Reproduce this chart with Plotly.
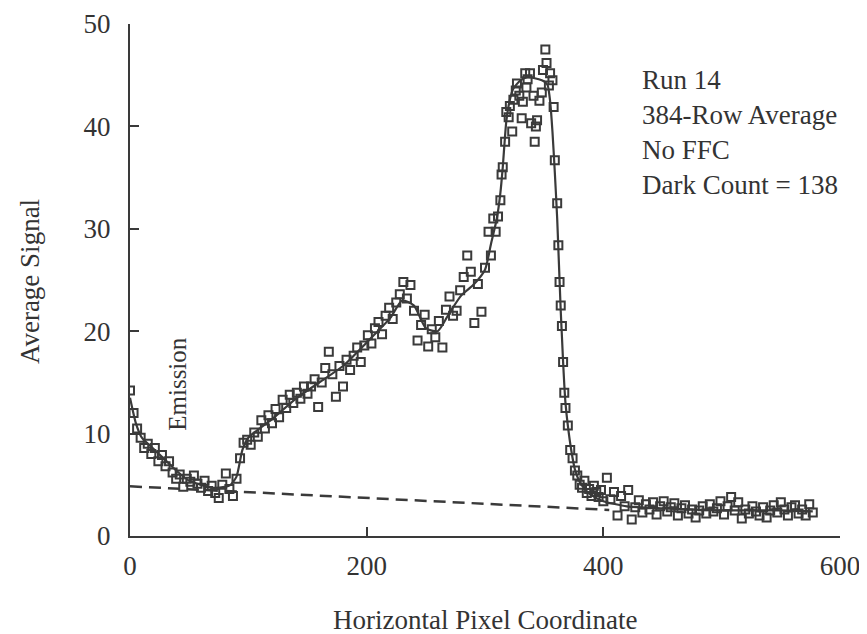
import plotly.graph_objects as go

# ---- data ----
seg_a_x = [0, 3, 6, 9, 12, 15, 18, 21, 24, 27, 30, 33, 36, 39, 42, 45, 48, 51, 54, 57,
           60, 63, 66, 69, 72, 75, 78, 81, 84, 87, 90, 93, 96]
seg_a_y = [14.2, 12.0, 10.5, 9.6, 8.6, 9.0, 8.0, 8.6, 7.3, 7.9, 6.8, 7.3, 6.2, 5.6, 6.0, 4.8,
           5.6, 5.3, 5.9, 5.1, 4.7, 5.4, 4.4, 4.9, 4.2, 3.7, 5.0, 6.1, 4.6, 3.9, 5.6, 7.6, 9.1]

seg_b_x = [99, 102, 105, 108, 111, 114, 117, 120, 123, 126, 129, 132, 135, 138, 141, 144,
           147, 150, 153, 156, 159, 162, 165, 168, 171, 174, 177, 180, 183, 186, 189, 192,
           195, 198]
seg_b_y = [9.4, 8.9, 10.1, 9.7, 11.3, 10.5, 11.8, 11.0, 12.4, 11.6, 13.3, 12.5, 13.8, 13.0,
           14.0, 13.4, 14.6, 13.9, 14.6, 15.3, 12.6, 15.0, 16.4, 18.0, 15.8, 13.6, 16.6,
           14.6, 17.2, 16.2, 17.6, 18.4, 17.0, 18.6]

seg_c_x = [201, 204, 207, 210, 213, 216, 219, 222, 225, 228, 231, 234, 237, 240, 243, 246,
           249, 252, 255, 258, 261, 264, 267, 270, 273, 276, 279, 282, 285, 288, 291, 294,
           297, 300]
seg_c_y = [19.6, 18.8, 20.3, 20.9, 19.7, 21.5, 22.3, 21.2, 22.8, 23.6, 24.8, 23.2, 24.5,
           22.0, 19.1, 20.6, 21.6, 18.5, 20.2, 19.4, 21.0, 18.4, 22.1, 23.4, 21.5, 22.0,
           24.0, 25.3, 27.4, 25.8, 20.8, 24.6, 21.9, 26.2]

seg_d_x = [303, 305, 307, 309, 311, 313, 314, 315, 317, 318, 320, 321, 323, 324, 326, 327,
           329, 331, 332, 334, 335, 336, 338, 339, 341, 342, 343, 344, 346, 348, 349, 351,
           352, 354, 355, 357, 358, 359, 361, 362, 363, 364, 365, 366, 367, 368, 370, 372,
           374, 376, 378, 380, 382, 384, 386, 388, 390, 392, 394, 396, 398]
seg_d_y = [29.7, 27.4, 31.0, 29.7, 31.2, 32.8, 35.3, 36.0, 38.5, 41.4, 40.9, 42.0, 39.5,
           42.6, 43.5, 44.2, 43.0, 40.8, 42.4, 45.2, 43.8, 44.6, 45.2, 40.3, 43.0, 38.5,
           40.0, 40.6, 42.5, 43.3, 45.5, 47.5, 46.2, 44.0, 45.2, 44.5, 41.9, 36.7, 32.5,
           28.4, 24.8, 22.5, 20.5, 17.0, 14.0, 12.5, 10.8, 8.4, 7.6, 6.4, 5.9, 5.0, 4.7,
           5.4, 4.2, 4.6, 3.9, 4.9, 4.3, 3.8, 4.5]

seg_e_x = [400, 403, 406, 409, 412, 415, 418, 421, 424, 427, 430, 433, 436, 439, 442, 445,
           448, 451, 454, 457, 460, 463, 466, 469, 472, 475, 478, 481, 484, 487, 490, 493,
           496, 499, 502, 505, 508, 511, 514, 517, 520, 523, 526, 529, 532, 535, 538, 541,
           544, 547, 550, 553, 556, 559, 562, 565, 568, 571, 574, 577]
seg_e_y = [3.4, 5.7, 3.6, 4.3, 2.0, 3.9, 2.9, 4.5, 1.6, 2.8, 3.5, 2.3, 3.1, 2.6, 3.3, 2.1,
           2.9, 3.4, 2.4, 2.8, 3.2, 2.0, 2.7, 3.0, 2.2, 2.6, 1.8, 2.5, 2.9, 2.2, 3.1, 2.4,
           2.7, 3.4, 2.1, 2.9, 3.8, 2.5, 3.3, 1.7, 2.6, 2.2, 2.9, 2.4, 2.0, 2.8, 1.8, 2.5,
           3.0, 2.3, 3.3, 2.6, 2.0, 2.8, 3.0, 2.2, 2.6, 2.0, 3.1, 2.3]

fit_x = [0, 5, 10, 20, 30, 40, 50, 60, 70, 80, 85, 90, 95, 100, 120, 140, 160, 180, 200,
         220, 230, 240, 250, 260, 270, 280, 290, 300, 305, 310, 313, 315, 318, 321, 324,
         330, 336, 342, 348, 351, 353, 355, 357, 359, 361, 362, 363, 364, 365, 366, 367,
         368, 370, 373, 376, 380, 385, 390, 400, 420, 450, 500, 550, 577]
fit_y = [13.5, 11.0, 9.6, 8.5, 7.4, 6.3, 5.4, 5.0, 4.7, 4.8, 5.0, 5.8, 8.4, 9.6, 11.4,
         13.4, 15.0, 16.6, 18.9, 21.3, 23.0, 22.5, 20.3, 20.0, 21.8, 23.5, 24.5, 26.0,
         28.5, 31.0, 33.5, 36.0, 40.5, 42.6, 43.7, 44.5, 44.8, 44.7, 44.5, 44.3, 44.0,
         42.5, 39.5, 35.5, 31.0, 28.0, 25.0, 22.0, 19.5, 17.0, 14.8, 13.0, 10.8, 8.3,
         6.5, 5.3, 4.5, 4.0, 3.4, 2.9, 2.7, 2.5, 2.5, 2.4]

base_x = [0, 405]
base_y = [4.85, 2.55]

x_ticks = [0, 200, 400, 600]
y_ticks = [0, 10, 20, 30, 40, 50]

info_lines = ["Run 14", "384-Row Average", "No FFC", "Dark Count = 138"]

# ---- figure ----
INK = "#3a3a3a"
TXT = "#333333"
FONT = "Liberation Serif, Times New Roman, serif"

pts_x = seg_a_x + seg_b_x + seg_c_x + seg_d_x + seg_e_x
pts_y = seg_a_y + seg_b_y + seg_c_y + seg_d_y + seg_e_y

fig = go.Figure()
fig.add_trace(go.Scatter(x=base_x, y=base_y, mode="lines",
                         line=dict(color=INK, width=2.5, dash="12px,7px"),
                         hoverinfo="skip", showlegend=False))
fig.add_trace(go.Scatter(x=fit_x, y=fit_y, mode="lines",
                         line=dict(color=INK, width=2.2, shape="spline", smoothing=0.6),
                         showlegend=False))
fig.add_trace(go.Scatter(x=pts_x, y=pts_y, mode="markers",
                         marker=dict(symbol="square-open", size=8, color=INK,
                                     line=dict(width=2, color=INK)),
                         showlegend=False))

fig.update_layout(
    width=859, height=626,
    margin=dict(l=122, r=27, t=16, b=98),
    paper_bgcolor="white", plot_bgcolor="white",
    font=dict(family=FONT, size=27, color=TXT),
    xaxis=dict(range=[0, 600], tickvals=x_ticks, ticks="inside", ticklen=9, tickwidth=2,
               tickcolor=INK, showline=True, linewidth=2, linecolor=INK, showgrid=False,
               zeroline=False, ticklabelstandoff=5, automargin=False,
               tickfont=dict(family=FONT, size=27, color=TXT)),
    yaxis=dict(range=[0, 50], tickvals=y_ticks, ticks="inside", ticklen=9, tickwidth=2,
               tickcolor=INK, showline=True, linewidth=2, linecolor=INK, showgrid=False,
               zeroline=False, ticklabelstandoff=12, automargin=False,
               tickfont=dict(family=FONT, size=27, color=TXT)),
    annotations=[
        dict(text="Horizontal Pixel Coordinate", xref="paper", yref="paper",
             x=0.5, y=-0.164, xanchor="center", yanchor="middle", showarrow=False,
             font=dict(family=FONT, size=27, color=TXT)),
        dict(text="Average Signal", xref="paper", yref="paper",
             x=-0.1408, y=0.496, xanchor="center", yanchor="middle", textangle=-90,
             showarrow=False, font=dict(family=FONT, size=27, color=TXT)),
        dict(text="Emission", xref="x", yref="y", x=40.0, y=14.9,
             xanchor="center", yanchor="middle", textangle=-90, showarrow=False,
             font=dict(family=FONT, size=25, color=TXT)),
        dict(text="<br>".join(info_lines), xref="paper", yref="paper",
             x=0.718, y=0.924, xanchor="left", yanchor="top", align="left",
             showarrow=False, font=dict(family=FONT, size=27, color=TXT)),
    ],
)

fig.write_html("out.html")
